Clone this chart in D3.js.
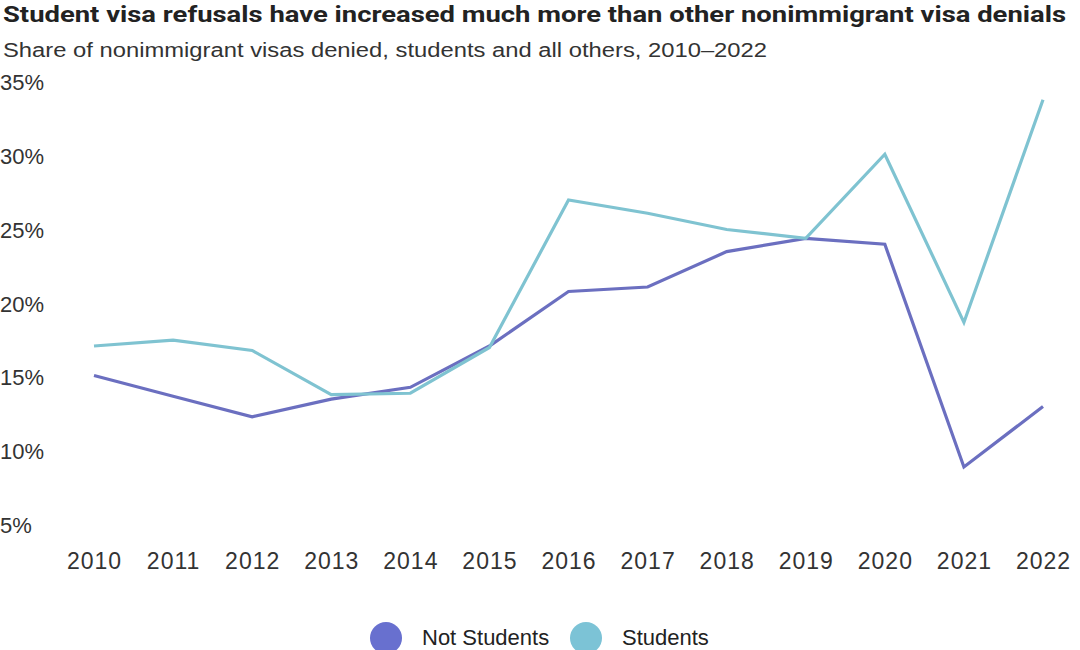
<!DOCTYPE html>
<html>
<head>
<meta charset="utf-8">
<script src="https://cdn.jsdelivr.net/npm/d3@7"></script>
<style>
  html, body { margin: 0; padding: 0; background: #fff; }
  svg { display: block; }
</style>
</head>
<body>
<svg id="chart" width="1080" height="650"></svg>
<script>
const years = [2010, 2011, 2012, 2013, 2014, 2015, 2016, 2017, 2018, 2019, 2020, 2021, 2022];
const notStudents = [15.1, 13.7, 12.3, 13.5, 14.3, 17.1, 20.8, 21.1, 23.5, 24.4, 24.0, 8.9, 13.0];
const students = [17.1, 17.5, 16.8, 13.8, 13.9, 17.0, 27.0, 26.1, 25.0, 24.4, 30.1, 18.7, 33.8];
const yTicks = [5, 10, 15, 20, 25, 30, 35];
const seriesNames = ["Not Students", "Students"];
const titleText = "Student visa refusals have increased much more than other nonimmigrant visa denials";
const subtitleText = "Share of nonimmigrant visas denied, students and all others, 2010\u20132022";

const lineColors = ["#6b6fc0", "#7fc3d1"];
const dotColors = ["#6870cf", "#7cc3d6"];

const svg = d3.select("#chart");

svg.append("text")
  .attr("x", 3).attr("y", 22)
  .attr("font-family", "Roboto, 'Liberation Sans', sans-serif")
  .attr("font-weight", 700)
  .attr("font-size", 22)
  .attr("fill", "#222")
  .attr("textLength", 1063)
  .attr("lengthAdjust", "spacingAndGlyphs")
  .text(titleText);

svg.append("text")
  .attr("x", 3).attr("y", 57)
  .attr("font-family", "'Liberation Sans', Arial, sans-serif")
  .attr("font-size", 20)
  .attr("fill", "#333")
  .attr("textLength", 764)
  .attr("lengthAdjust", "spacingAndGlyphs")
  .text(subtitleText);

const x = d3.scalePoint().domain(years).range([94, 1043]);
const y = d3.scaleLinear().domain([5, 35]).range([524.5, 82]);

// Y axis labels
const yAxis = d3.axisLeft(y).tickValues(yTicks).tickFormat(d => d + "%").tickSize(0);
const yg = svg.append("g").call(yAxis);
yg.select(".domain").remove();
yg.selectAll("text")
  .attr("x", 0)
  .attr("text-anchor", "start")
  .attr("dy", "0.36em")
  .attr("font-family", "'Liberation Sans', Arial, sans-serif")
  .attr("font-size", 22)
  .attr("fill", "#333");

// X axis labels
const xAxis = d3.axisBottom(x).tickSize(0).tickFormat(d3.format("d"));
const xg = svg.append("g").attr("transform", "translate(0,569)").call(xAxis);
xg.select(".domain").remove();
xg.selectAll("text")
  .attr("y", 0)
  .attr("dy", 0)
  .attr("font-family", "'Liberation Sans', Arial, sans-serif")
  .attr("font-size", 23)
  .attr("letter-spacing", 1)
  .attr("fill", "#333");

const line = d3.line().x((d, i) => x(years[i])).y(d => y(d));

[notStudents, students].forEach((s, k) => {
  svg.append("path")
    .datum(s)
    .attr("d", line)
    .attr("fill", "none")
    .attr("stroke", lineColors[k])
    .attr("stroke-width", 3.2)
    .attr("stroke-linejoin", "miter");
});

// Legend
const legendX = [386, 586];
seriesNames.forEach((name, k) => {
  const g = svg.append("g").attr("transform", `translate(${legendX[k]},638)`);
  g.append("circle").attr("r", 16).attr("fill", dotColors[k]);
  g.append("text")
    .attr("x", 36).attr("y", 7)
    .attr("font-family", "'Liberation Sans', Arial, sans-serif")
    .attr("font-size", 22)
    .attr("fill", "#222")
    .text(name);
});
</script>
</body>
</html>
